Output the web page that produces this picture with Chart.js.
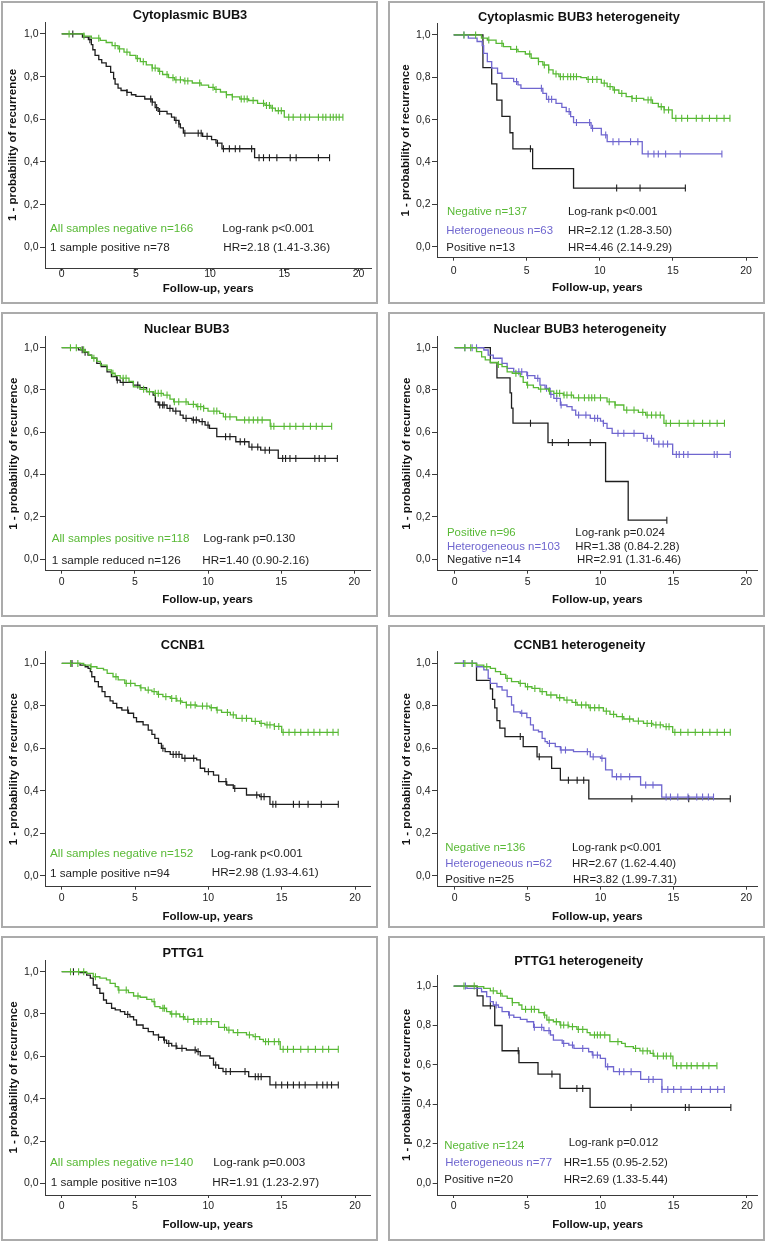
<!DOCTYPE html>
<html lang="en">
<head>
<meta charset="UTF-8">
<title>Recurrence-free survival: BUB3, CCNB1, PTTG1</title>
<script src="https://cdn.jsdelivr.net/npm/chart.js"></script>
<style>
  body {
    margin: 0;
    background: #fff;
    width: 767px;
    height: 1242px;
    position: relative;
    overflow: hidden;
    font-family: 'Liberation Sans', Arial, Helvetica, sans-serif;
  }
  .box {
    position: absolute;
    border: 2px solid #ababab;
    box-sizing: border-box;
  }
  canvas { position: absolute; }
  .lbl {
    position: absolute;
    white-space: nowrap;
    font-size: 11.4px;
    line-height: 14px;
    color: #1e1e1e;
  }
  .lbl.wide { font-size: 11.7px; }
  .ttl {
    position: absolute;
    white-space: nowrap;
    font-size: 12.8px;
    font-weight: bold;
    line-height: 16px;
    color: #111;
    transform: translateX(-50%);
  }
</style>
</head>
<body>
<script>
  const GREEN = '#58b935';
  const PURPLE = '#6f66cf';
  const BLACK = '#1e1e1e';
  const FONT = "'Liberation Sans', Arial, Helvetica, sans-serif";

  const xTicks = [0, 5, 10, 15, 20];
  const yTicks = [0, 0.2, 0.4, 0.6, 0.8, 1.0];
  const xTitle = 'Follow-up, years';
  const yTitle = '1 - probability of recurrence';

  // each step = [years, survival after the drop]; cens = censoring times (years)

  // Cytoplasmic BUB3
  const cytoNegSteps = [[1.5,0.99],[2.0,0.98],[2.6,0.97],[3.0,0.96],[3.4,0.945],[3.8,0.93],[4.2,0.915],[4.6,0.9],[5.0,0.885],[5.3,0.87],[5.7,0.855],[6.1,0.84],[6.5,0.825],[6.8,0.81],[7.2,0.795],[7.6,0.785],[8.2,0.78],[8.8,0.77],[9.4,0.76],[9.9,0.75],[10.3,0.74],[10.7,0.728],[11.1,0.715],[11.5,0.705],[12.0,0.695],[12.6,0.688],[13.2,0.675],[13.7,0.665],[14.1,0.652],[14.4,0.64],[15.0,0.61]];
  const cytoNegCens = [0.5,1.5,2.5,3.6,3.9,4.4,5.1,5.5,6.1,6.3,6.6,7.1,7.5,7.7,8.0,8.3,8.5,9.3,10.2,10.4,11.1,11.5,12.1,12.3,12.5,12.9,13.6,13.8,14.0,14.2,14.6,14.8,15.3,15.6,16.1,16.4,16.7,17.3,17.6,17.8,18.1,18.3,18.5,18.7,18.95];
  const cytoPosSteps = [[1.4,0.985],[1.8,0.973],[2.0,0.95],[2.1,0.926],[2.25,0.9],[2.5,0.88],[2.7,0.864],[3.0,0.848],[3.3,0.82],[3.5,0.79],[3.6,0.765],[3.8,0.746],[4.0,0.735],[4.4,0.726],[4.7,0.715],[5.0,0.707],[5.6,0.695],[6.1,0.68],[6.3,0.655],[6.5,0.637],[7.1,0.625],[7.4,0.61],[7.6,0.595],[7.9,0.578],[8.0,0.56],[8.2,0.535],[9.5,0.52],[10.1,0.505],[10.4,0.488],[10.8,0.462],[13.0,0.42]];
  const cytoPosCens = [0.75,1.9,4.4,6.0,6.1,6.4,6.6,7.7,7.9,8.3,9.2,9.4,9.8,10.5,10.9,11.3,11.7,12.0,12.8,13.3,13.6,14.0,14.5,15.4,15.8,17.3,18.05];

  // Cytoplasmic BUB3 heterogeneity
  const cytoHetNegSteps = [[1.9,0.985],[2.3,0.976],[2.9,0.96],[3.4,0.945],[3.9,0.932],[4.4,0.921],[4.9,0.91],[5.3,0.89],[5.8,0.874],[6.1,0.858],[6.5,0.835],[6.8,0.816],[7.2,0.803],[8.7,0.798],[9.1,0.79],[10.1,0.772],[10.5,0.756],[10.9,0.74],[11.3,0.724],[11.8,0.709],[12.2,0.7],[13.0,0.693],[13.6,0.677],[14.0,0.661],[14.4,0.646],[14.95,0.606]];
  const cytoHetNegCens = [0.7,1.5,2.4,3.3,4.3,5.2,5.8,6.2,6.5,7.0,7.3,7.5,7.8,8.0,8.2,8.4,9.2,9.5,9.8,10.3,10.7,11.0,11.5,12.2,12.5,13.3,13.5,14.2,14.4,14.7,15.2,15.6,16.0,16.6,17.0,17.5,18.0,18.5,18.9];
  const cytoHetHetSteps = [[1.0,0.985],[1.6,0.969],[1.95,0.95],[2.05,0.913],[2.3,0.874],[2.6,0.843],[3.0,0.819],[3.3,0.795],[4.1,0.78],[4.4,0.764],[4.6,0.748],[6.1,0.724],[6.35,0.696],[7.0,0.677],[7.4,0.658],[7.7,0.638],[8.0,0.614],[8.2,0.586],[9.4,0.559],[10.1,0.528],[10.5,0.496],[12.9,0.438]];
  const cytoHetHetCens = [0.7,4.3,6.0,6.5,6.7,7.9,8.4,9.3,9.5,10.4,10.9,11.3,12.1,12.6,13.3,13.7,14.0,14.5,15.5,18.35];
  const cytoHetPosSteps = [[2.0,0.846],[2.6,0.769],[2.95,0.692],[3.3,0.615],[3.85,0.538],[4.05,0.462],[5.4,0.369],[8.2,0.277]];
  const cytoHetPosCens = [5.25,11.15,12.75,15.85];

  // Nuclear BUB3
  const nucPosSteps = [[1.3,0.99],[1.6,0.98],[1.85,0.965],[2.05,0.95],[2.4,0.935],[2.65,0.918],[3.1,0.895],[3.4,0.879],[3.65,0.868],[4.0,0.856],[4.6,0.84],[4.9,0.815],[5.35,0.803],[5.8,0.792],[6.3,0.784],[6.95,0.776],[7.4,0.757],[7.65,0.744],[8.65,0.732],[9.2,0.721],[9.7,0.713],[10.0,0.7],[10.8,0.689],[11.05,0.673],[11.95,0.658],[14.25,0.628]];
  const nucPosCens = [0.6,1.0,1.5,2.2,3.5,4.2,4.4,5.6,6.0,6.4,6.6,6.8,7.2,7.7,8.0,8.5,9.0,9.3,9.5,9.7,10.4,10.6,11.2,11.5,12.5,12.8,13.1,13.4,13.7,14.3,14.5,15.2,15.6,16.0,16.5,17.0,17.4,17.8,18.45];
  const nucRedSteps = [[1.15,0.99],[1.5,0.978],[1.8,0.965],[2.05,0.95],[2.4,0.926],[2.7,0.91],[3.1,0.886],[3.4,0.863],[3.75,0.847],[4.0,0.836],[4.9,0.823],[5.35,0.811],[5.8,0.792],[6.25,0.776],[6.4,0.744],[6.6,0.729],[7.2,0.713],[7.6,0.7],[8.1,0.681],[8.3,0.666],[8.9,0.658],[9.4,0.65],[9.8,0.634],[10.1,0.618],[10.6,0.579],[11.9,0.555],[12.8,0.53],[13.6,0.515],[14.8,0.476]];
  const nucRedCens = [1.4,1.6,3.8,4.2,5.2,6.7,6.9,7.0,7.4,7.8,8.5,9.0,9.2,9.6,10.0,11.2,11.5,12.2,12.5,13.0,13.4,13.9,14.2,15.1,15.3,15.6,16.0,17.3,17.6,18.0,18.84];

  // Nuclear BUB3 heterogeneity
  const nucHetPosSteps = [[1.5,0.981],[1.85,0.957],[2.1,0.942],[2.45,0.93],[2.9,0.921],[3.25,0.91],[3.6,0.886],[3.95,0.879],[4.5,0.863],[4.7,0.836],[4.95,0.823],[5.4,0.811],[5.75,0.804],[6.45,0.795],[6.8,0.784],[7.45,0.776],[8.15,0.763],[10.45,0.744],[11.0,0.729],[11.6,0.705],[12.6,0.694],[13.1,0.681],[14.35,0.642]];
  const nucHetPosCens = [0.7,1.1,3.0,4.2,5.0,5.9,6.5,7.0,7.2,7.5,7.7,8.0,8.5,8.9,9.2,9.4,9.6,10.0,10.6,11.0,11.8,12.3,12.9,13.2,13.5,13.8,14.1,14.5,14.8,15.4,16.0,16.4,17.0,17.5,18.0,18.5];
  const nucHetHetSteps = [[2.0,0.989],[2.3,0.965],[2.65,0.95],[3.25,0.926],[3.6,0.902],[4.05,0.886],[4.95,0.868],[5.5,0.855],[5.85,0.823],[6.2,0.808],[6.55,0.779],[6.8,0.76],[7.25,0.729],[7.7,0.721],[8.05,0.705],[8.3,0.681],[9.3,0.666],[10.0,0.653],[10.2,0.642],[10.45,0.618],[10.8,0.595],[12.95,0.571],[13.65,0.544],[14.95,0.495]];
  const nucHetHetCens = [0.7,1.2,1.5,4.4,4.6,5.0,5.7,6.3,6.6,7.0,7.3,8.5,9.0,9.6,9.8,10.2,11.2,11.6,12.3,13.2,13.5,14.0,14.3,14.6,15.2,15.4,15.7,16.0,17.8,18.0,18.9];
  const nucHetNegSteps = [[2.45,0.929],[2.9,0.857],[3.8,0.786],[3.9,0.714],[4.0,0.643],[6.4,0.551],[10.35,0.367],[11.9,0.184]];
  const nucHetNegCens = [5.2,6.7,7.8,9.3,14.55];

  // CCNB1
  const ccnbNegSteps = [[1.5,0.992],[1.95,0.984],[2.4,0.976],[2.85,0.969],[3.1,0.953],[3.5,0.937],[3.85,0.922],[4.3,0.906],[5.0,0.895],[5.35,0.885],[5.7,0.874],[6.15,0.867],[6.5,0.854],[6.9,0.843],[7.4,0.835],[7.85,0.823],[8.2,0.816],[8.5,0.804],[9.2,0.799],[10.1,0.791],[10.55,0.78],[10.9,0.769],[11.5,0.757],[11.9,0.741],[12.95,0.727],[13.5,0.717],[13.85,0.71],[14.5,0.703],[15.0,0.675]];
  const ccnbNegCens = [0.6,1.1,2.0,3.7,4.4,4.7,5.4,5.9,6.3,6.6,7.1,7.5,7.8,8.1,8.5,8.8,9.1,9.6,9.9,10.2,10.6,11.3,11.7,12.3,12.6,13.2,13.6,14.0,14.2,14.5,14.8,15.1,15.5,15.9,16.3,16.8,17.2,17.6,18.1,18.5,18.85];
  const ccnbPosSteps = [[1.25,0.992],[1.6,0.984],[1.8,0.976],[1.95,0.961],[2.05,0.937],[2.25,0.914],[2.5,0.89],[2.75,0.867],[2.95,0.843],[3.3,0.823],[3.5,0.812],[3.75,0.791],[4.1,0.78],[4.55,0.765],[4.9,0.744],[5.1,0.725],[5.55,0.71],[5.9,0.686],[6.15,0.666],[6.35,0.647],[6.6,0.623],[6.8,0.6],[7.05,0.584],[7.4,0.571],[8.2,0.553],[9.2,0.545],[9.45,0.506],[9.75,0.49],[10.35,0.474],[10.7,0.443],[11.25,0.427],[11.7,0.411],[12.6,0.38],[13.5,0.372],[14.2,0.336]];
  const ccnbPosCens = [0.7,4.5,6.9,7.6,7.8,8.0,8.4,9.0,10.0,11.2,11.8,13.3,13.6,13.8,14.4,14.6,15.8,16.2,16.8,17.7,18.86];

  // CCNB1 heterogeneity
  const ccnbHetNegSteps = [[1.5,0.992],[2.0,0.984],[2.45,0.976],[2.8,0.961],[3.15,0.948],[3.5,0.929],[3.9,0.914],[4.4,0.906],[4.85,0.89],[5.3,0.882],[5.85,0.867],[6.3,0.851],[7.0,0.838],[7.5,0.827],[8.05,0.816],[8.4,0.804],[9.2,0.791],[10.2,0.775],[10.65,0.76],[11.1,0.749],[11.6,0.738],[12.25,0.728],[12.95,0.717],[13.6,0.71],[14.3,0.702],[14.95,0.675]];
  const ccnbHetNegCens = [0.7,1.2,2.2,3.6,4.5,5.0,5.5,6.0,6.6,7.2,7.7,8.3,8.7,9.0,9.3,9.6,9.9,10.4,10.9,11.5,12.0,12.6,13.2,13.5,13.8,14.1,14.5,14.7,15.1,15.5,16.0,16.5,17.0,17.5,18.0,18.5,18.9];
  const ccnbHetHetSteps = [[1.5,0.984],[2.0,0.969],[2.3,0.929],[2.45,0.906],[2.9,0.89],[3.25,0.874],[3.6,0.843],[3.9,0.804],[4.05,0.772],[4.5,0.765],[4.95,0.744],[5.2,0.71],[5.4,0.686],[5.75,0.678],[6.0,0.647],[6.2,0.631],[6.35,0.623],[6.9,0.608],[7.25,0.592],[8.15,0.584],[9.3,0.56],[10.0,0.553],[10.35,0.498],[10.8,0.466],[12.75,0.427],[14.2,0.37]];
  const ccnbHetHetCens = [0.6,1.2,4.6,6.5,7.3,7.6,9.1,9.5,10.1,11.1,11.4,12.0,13.1,13.6,14.5,14.8,15.3,16.0,16.6,17.0,17.4,17.75];
  const ccnbHetPosSteps = [[1.5,0.92],[2.45,0.88],[2.6,0.83],[2.75,0.79],[2.9,0.73],[3.1,0.695],[3.45,0.655],[4.7,0.608],[5.65,0.56],[6.65,0.505],[7.25,0.45],[9.2,0.362]];
  const ccnbHetPosCens = [4.5,5.8,7.8,8.4,8.85,12.15,16.05,18.9];

  // PTTG1
  const pttgNegSteps = [[1.7,0.992],[2.15,0.976],[2.6,0.969],[3.05,0.961],[3.3,0.945],[3.65,0.929],[3.85,0.913],[4.55,0.901],[4.9,0.885],[5.35,0.879],[5.8,0.869],[6.15,0.858],[6.35,0.835],[6.7,0.827],[7.15,0.811],[7.4,0.8],[8.05,0.787],[8.4,0.775],[9.0,0.764],[10.7,0.737],[11.25,0.724],[11.7,0.712],[12.6,0.701],[13.05,0.693],[13.5,0.68],[13.75,0.669],[14.9,0.633]];
  const pttgNegCens = [0.6,1.15,1.5,2.3,3.9,4.4,5.2,6.3,6.9,7.0,7.5,7.8,8.3,8.6,9.0,9.3,9.5,9.9,10.2,11.1,11.4,12.0,12.8,13.2,13.9,14.1,14.5,14.8,15.1,15.4,15.8,16.3,16.8,17.3,17.8,18.2,18.86];
  const pttgPosSteps = [[1.25,0.995],[1.7,0.984],[1.95,0.969],[2.15,0.937],[2.4,0.921],[2.6,0.898],[2.85,0.866],[3.05,0.85],[3.4,0.827],[3.65,0.819],[4.0,0.811],[4.3,0.798],[4.65,0.787],[4.9,0.772],[5.1,0.748],[5.55,0.732],[5.9,0.717],[6.25,0.701],[6.6,0.69],[6.95,0.677],[7.15,0.661],[7.5,0.649],[7.85,0.638],[8.5,0.63],[9.2,0.622],[9.45,0.602],[10.1,0.591],[10.35,0.559],[10.7,0.543],[11.0,0.528],[12.75,0.504],[14.2,0.465]];
  const pttgPosCens = [0.8,4.5,6.6,7.0,7.3,7.8,8.2,9.1,9.3,10.5,11.2,11.5,12.5,13.2,13.4,13.6,14.6,15.0,15.4,15.8,16.2,16.6,17.4,17.8,18.1,18.4,18.86];

  // PTTG1 heterogeneity
  const pttgHetNegSteps = [[1.6,0.997],[2.05,0.988],[2.5,0.976],[2.95,0.963],[3.3,0.949],[3.65,0.938],[4.0,0.916],[4.45,0.904],[4.65,0.882],[5.8,0.865],[6.15,0.853],[6.35,0.828],[6.8,0.819],[7.25,0.802],[7.85,0.794],[8.4,0.78],[9.1,0.764],[9.3,0.752],[10.65,0.718],[11.45,0.709],[11.7,0.693],[12.25,0.684],[12.7,0.671],[13.4,0.659],[13.65,0.645],[14.95,0.596]];
  const pttgHetNegCens = [0.7,1.4,2.7,3.2,4.0,4.9,5.3,5.5,6.2,6.5,7.0,7.3,7.5,7.8,8.1,8.5,8.8,9.6,9.8,10.0,10.3,11.2,12.4,12.9,13.2,13.6,13.9,14.3,14.5,14.8,15.2,15.5,15.9,16.2,16.6,17.0,17.4,17.95];
  const pttgHetHetSteps = [[0.9,0.988],[1.9,0.971],[2.25,0.946],[2.5,0.921],[2.7,0.904],[3.05,0.892],[3.3,0.87],[3.75,0.853],[4.1,0.841],[4.55,0.831],[5.0,0.819],[5.45,0.791],[6.15,0.774],[6.6,0.752],[6.8,0.726],[7.4,0.709],[7.85,0.701],[8.2,0.684],[9.2,0.667],[9.45,0.65],[10.0,0.633],[10.35,0.591],[10.9,0.566],[12.75,0.527],[14.2,0.476]];
  const pttgHetHetCens = [0.8,2.9,3.8,5.5,6.0,6.5,7.5,8.1,8.8,9.5,9.8,10.5,11.3,11.6,12.1,13.3,13.6,14.2,14.6,15.0,15.5,16.2,16.9,17.5,18.0,18.45];
  const pttgHetPosSteps = [[1.6,0.95],[2.0,0.9],[2.8,0.8],[3.3,0.672],[4.45,0.612],[5.75,0.554],[7.25,0.481],[9.3,0.385]];
  const pttgHetPosCens = [2.5,4.4,6.7,8.4,8.8,12.1,15.8,16.05,18.9];

  // panel frames and text positions (page pixels)
  const L = { bx: 1, bw: 377, wide: true }, R = { bx: 388, bw: 377, wide: false };
  const rows = [{ by: 1, bh: 303 }, { by: 312, bh: 305 }, { by: 625, bh: 303 }, { by: 936, bh: 305 }];

  const panels = [
    { col: L, row: rows[0], title: 'Cytoplasmic BUB3', tx: 190, ty: 15,
      l: 45, r: 372, t: 22, b: 268, xMin: -1.123, xMax: 20.87, yMin: -0.097, yMax: 1.056,
      ytX: 13.3, xtY: 289.3, xlY: 274.5,
      curves: [[cytoNegSteps, cytoNegCens, GREEN], [cytoPosSteps, cytoPosCens, BLACK]],
      texts: [['All samples negative n=166', 50, 228.3, GREEN], ['1 sample positive n=78', 50, 247.3, BLACK],
              ['Log-rank p<0.001', 222.3, 228.3, BLACK], ['HR=2.18 (1.41-3.36)', 223.3, 247.3, BLACK]] },
    { col: R, row: rows[0], title: 'Cytoplasmic BUB3 heterogeneity', tx: 579, ty: 16.7,
      l: 437, r: 757.7, t: 23.3, b: 257.7, xMin: -1.143, xMax: 20.8, yMin: -0.052, yMax: 1.055,
      ytX: 406, xtY: 288.3, xlY: 270.7,
      curves: [[cytoHetNegSteps, cytoHetNegCens, GREEN], [cytoHetHetSteps, cytoHetHetCens, PURPLE], [cytoHetPosSteps, cytoHetPosCens, BLACK]],
      texts: [['Negative n=137', 447, 210.7, GREEN], ['Heterogeneous n=63', 446.3, 230, PURPLE], ['Positive n=13', 446.3, 247.3, BLACK],
              ['Log-rank p<0.001', 568, 210.7, BLACK], ['HR=2.12 (1.28-3.50)', 568, 230, BLACK], ['HR=4.46 (2.14-9.29)', 568, 247.3, BLACK]] },
    { col: L, row: rows[1], title: 'Nuclear BUB3', tx: 186.7, ty: 329,
      l: 45, r: 370, t: 336.7, b: 570.7, xMin: -1.14, xMax: 21.07, yMin: -0.055, yMax: 1.052,
      ytX: 14, xtY: 600, xlY: 582.3,
      curves: [[nucPosSteps, nucPosCens, GREEN], [nucRedSteps, nucRedCens, BLACK]],
      texts: [['All samples positive n=118', 51.7, 538.3, GREEN], ['1 sample reduced n=126', 51.7, 560, BLACK],
              ['Log-rank p=0.130', 203.3, 538.3, BLACK], ['HR=1.40 (0.90-2.16)', 202.3, 560, BLACK]] },
    { col: R, row: rows[1], title: 'Nuclear BUB3 heterogeneity', tx: 580, ty: 329,
      l: 437, r: 757.7, t: 336.7, b: 570.7, xMin: -1.21, xMax: 20.78, yMin: -0.055, yMax: 1.052,
      ytX: 407, xtY: 600, xlY: 582.3,
      curves: [[nucHetPosSteps, nucHetPosCens, GREEN], [nucHetHetSteps, nucHetHetCens, PURPLE], [nucHetNegSteps, nucHetNegCens, BLACK]],
      texts: [['Positive n=96', 447, 531.7, GREEN], ['Heterogeneous n=103', 447, 545.7, PURPLE], ['Negative n=14', 447, 559.3, BLACK],
              ['Log-rank p=0.024', 575.3, 531.7, BLACK], ['HR=1.38 (0.84-2.28)', 575.3, 545.7, BLACK], ['HR=2.91 (1.31-6.46)', 577, 559.3, BLACK]] },
    { col: L, row: rows[2], title: 'CCNB1', tx: 182.7, ty: 645,
      l: 45, r: 370.7, t: 651.7, b: 886.7, xMin: -1.14, xMax: 21.07, yMin: -0.052, yMax: 1.055,
      ytX: 14, xtY: 916.7, xlY: 897.7,
      curves: [[ccnbNegSteps, ccnbNegCens, GREEN], [ccnbPosSteps, ccnbPosCens, BLACK]],
      texts: [['All samples negative n=152', 50, 853.3, GREEN], ['1 sample positive n=94', 50, 873.3, BLACK],
              ['Log-rank p<0.001', 210.7, 853.3, BLACK], ['HR=2.98 (1.93-4.61)', 211.7, 871.7, BLACK]] },
    { col: R, row: rows[2], title: 'CCNB1 heterogeneity', tx: 579.5, ty: 645,
      l: 437, r: 757.7, t: 651.7, b: 886.7, xMin: -1.21, xMax: 20.78, yMin: -0.052, yMax: 1.055,
      ytX: 407, xtY: 916.7, xlY: 897.7,
      curves: [[ccnbHetNegSteps, ccnbHetNegCens, GREEN], [ccnbHetHetSteps, ccnbHetHetCens, PURPLE], [ccnbHetPosSteps, ccnbHetPosCens, BLACK]],
      texts: [['Negative n=136', 445.3, 846.7, GREEN], ['Heterogeneous n=62', 445.3, 863.3, PURPLE], ['Positive n=25', 445.3, 879, BLACK],
              ['Log-rank p<0.001', 572, 846.7, BLACK], ['HR=2.67 (1.62-4.40)', 572, 863.3, BLACK], ['HR=3.82 (1.99-7.31)', 573, 879, BLACK]] },
    { col: L, row: rows[3], title: 'PTTG1', tx: 183, ty: 953.3,
      l: 45, r: 370.7, t: 960, b: 1195, xMin: -1.14, xMax: 21.07, yMin: -0.055, yMax: 1.055,
      ytX: 14, xtY: 1225, xlY: 1206,
      curves: [[pttgNegSteps, pttgNegCens, GREEN], [pttgPosSteps, pttgPosCens, BLACK]],
      texts: [['All samples negative n=140', 50, 1161.7, GREEN], ['1 sample positive n=103', 50.7, 1182.3, BLACK],
              ['Log-rank p=0.003', 213.3, 1161.7, BLACK], ['HR=1.91 (1.23-2.97)', 212.3, 1182.3, BLACK]] },
    { col: R, row: rows[3], title: 'PTTG1 heterogeneity', tx: 578.7, ty: 960.7,
      l: 437.7, r: 757.7, t: 975, b: 1195, xMin: -1.09, xMax: 20.73, yMin: -0.059, yMax: 1.056,
      ytX: 407, xtY: 1225, xlY: 1206,
      curves: [[pttgHetNegSteps, pttgHetNegCens, GREEN], [pttgHetHetSteps, pttgHetHetCens, PURPLE], [pttgHetPosSteps, pttgHetPosCens, BLACK]],
      texts: [['Negative n=124', 444.3, 1145, GREEN], ['Heterogeneous n=77', 445.3, 1162.3, PURPLE], ['Positive n=20', 444.3, 1179.3, BLACK],
              ['Log-rank p=0.012', 568.7, 1141.7, BLACK], ['HR=1.55 (0.95-2.52)', 563.7, 1162.3, BLACK], ['HR=2.69 (1.33-5.44)', 563.7, 1179.3, BLACK]] }
  ];

  // merge step drops and censor marks into one step-line dataset
  function kmPoints(steps, cens) {
    const pts = [{ x: 0, y: 1, c: false }];
    steps.forEach(s => pts.push({ x: s[0], y: s[1], c: false }));
    cens.forEach(t => pts.push({ x: t, y: null, c: true }));
    pts.sort((a, b) => a.x - b.x || (a.c - b.c));
    let cur = 1;
    pts.forEach(p => { if (p.c) p.y = cur; else cur = p.y; });
    return pts;
  }

  const tickFont = { family: FONT, size: 10.5 };
  const titleFont = { family: FONT, size: 11.5, weight: 'bold' };
  const axisColor = '#3a3a3a';

  panels.forEach(p => {
    const box = document.createElement('div');
    box.className = 'box';
    box.style.left = p.col.bx + 'px';
    box.style.top = p.row.by + 'px';
    box.style.width = p.col.bw + 'px';
    box.style.height = p.row.bh + 'px';
    document.body.appendChild(box);

    const cx = p.col.bx + 2, cy = p.row.by + 2, cw = p.col.bw - 4, ch = p.row.bh - 4;
    const cv = document.createElement('canvas');
    cv.width = cw; cv.height = ch;
    cv.style.left = cx + 'px'; cv.style.top = cy + 'px';
    cv.style.width = cw + 'px'; cv.style.height = ch + 'px';
    document.body.appendChild(cv);

    const yW = p.l - cx;
    const xH = cy + ch - p.b;
    const lhTitle = titleFont.size * 1.2;
    const lhTick = tickFont.size * 1.2;

    const datasets = p.curves.map(c => {
      const pts = kmPoints(c[0], c[1]);
      return {
        data: pts.map(q => ({ x: q.x, y: q.y })),
        borderColor: c[2],
        borderWidth: 1.3,
        stepped: true,
        fill: false,
        pointStyle: 'line',
        rotation: 90,
        pointRadius: pts.map(q => q.c ? 3.5 : 0),
        pointBorderColor: c[2],
        pointBorderWidth: 1.1,
        pointHoverRadius: 0,
        pointHitRadius: 0
      };
    });

    new Chart(cv, {
      type: 'line',
      data: { datasets },
      options: {
        responsive: false,
        animation: false,
        events: [],
        layout: { padding: { left: 0, top: p.t - cy, right: cx + cw - p.r, bottom: 0 } },
        plugins: { legend: { display: false }, tooltip: { enabled: false }, title: { display: false } },
        scales: {
          x: {
            type: 'linear',
            bounds: 'data',
            min: p.xMin, max: p.xMax,
            afterBuildTicks: s => { s.ticks = xTicks.map(v => ({ value: v })); },
            afterFit: s => { s.height = xH; },
            ticks: { font: tickFont, color: '#222', autoSkip: false, maxRotation: 0,
                     padding: p.xlY - p.b - 3 - lhTick / 2, callback: v => String(v) },
            grid: { drawOnChartArea: false, drawTicks: true, tickLength: 3, color: axisColor },
            border: { display: true, color: axisColor, width: 1 },
            title: { display: true, text: xTitle, font: titleFont, color: '#111',
                     padding: { top: 0, bottom: cy + ch - p.xtY - lhTitle / 2 } }
          },
          y: {
            type: 'linear',
            bounds: 'data',
            min: p.yMin, max: p.yMax,
            afterBuildTicks: s => { s.ticks = yTicks.map(v => ({ value: v })); },
            afterFit: s => { s.width = yW; },
            ticks: { font: tickFont, color: '#222', autoSkip: false, padding: 1.5,
                     callback: v => v.toFixed(1).replace('.', ',') },
            grid: { drawOnChartArea: false, drawTicks: true, tickLength: 5, color: axisColor },
            border: { display: true, color: axisColor, width: 1 },
            title: { display: true, text: yTitle, font: titleFont, color: '#111',
                     padding: { top: p.ytX - cx - lhTitle / 2, bottom: 0 } }
          }
        }
      }
    });

    const t = document.createElement('div');
    t.className = 'ttl';
    t.textContent = p.title;
    t.style.left = p.tx + 'px';
    t.style.top = (p.ty - 8) + 'px';
    document.body.appendChild(t);

    p.texts.forEach(tt => {
      const d = document.createElement('div');
      d.className = p.col.wide ? 'lbl wide' : 'lbl';
      d.textContent = tt[0];
      d.style.left = tt[1] + 'px';
      d.style.top = (tt[2] - 7) + 'px';
      d.style.color = tt[3];
      document.body.appendChild(d);
    });
  });
</script>
</body>
</html>
